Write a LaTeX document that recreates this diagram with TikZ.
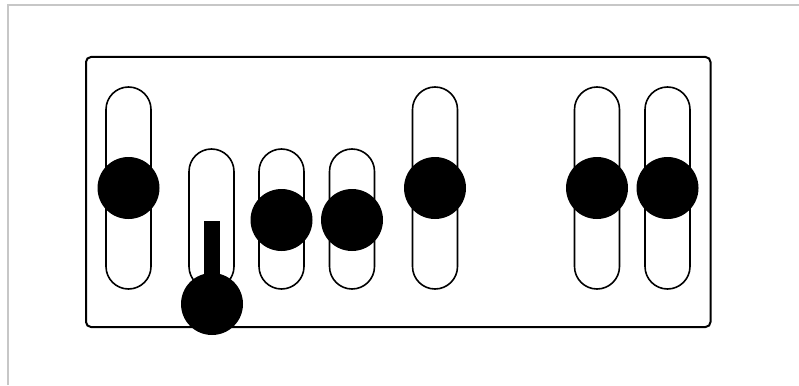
\documentclass[tikz,border=0pt]{standalone}
\begin{document}
\begin{tikzpicture}[x=1pt,y=-1pt,
  frameline/.style={draw=black!22,line width=1.5pt},
  panel/.style={draw=black,line width=2pt,rounded corners=5pt},
  slot/.style={draw=black,line width=1.6pt,fill=white,rounded corners=22.5pt},
  knob/.style={fill=black}]
\useasboundingbox (0,0) rectangle (799,385);
\draw[frameline] (8,385) -- (8,5) -- (799,5);
\draw[panel] (86,57) rectangle (710.5,327);
% slots
\foreach \cx/\top in {128.5/87, 211.5/149, 281.5/149, 352/149, 435/87, 597/87, 667.5/87}{
  \draw[slot] (\cx-22.5,\top) rectangle (\cx+22.5,289);
}
% stem of the lowered knob
\fill[knob] (204,221) rectangle (220,290);
% knobs
\foreach \cx/\cy in {128.5/188, 212/304, 281.5/220, 352/220, 435/188, 597/188, 667.5/188}{
  \fill[knob] (\cx,\cy) circle (31);
}
\end{tikzpicture}
\end{document}
